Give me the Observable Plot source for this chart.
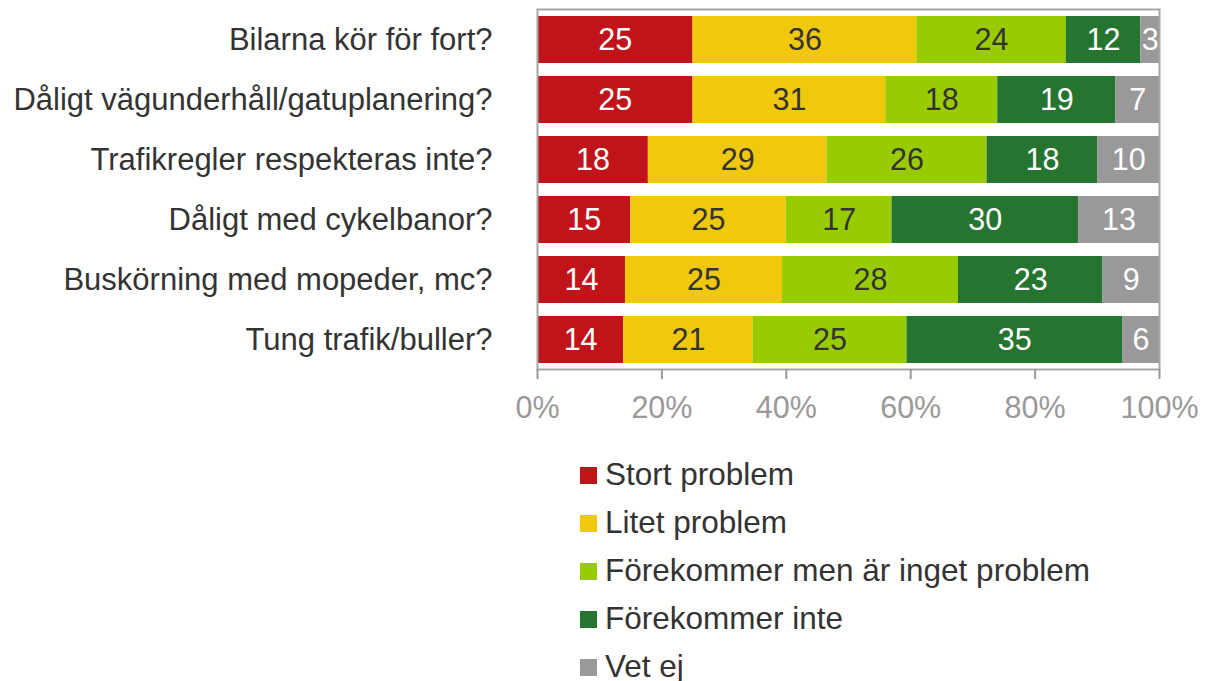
<!DOCTYPE html>
<html>
<head>
<meta charset="utf-8">
<script src="https://cdn.jsdelivr.net/npm/d3@7"></script>
<script src="https://cdn.jsdelivr.net/npm/@observablehq/plot@0.6"></script>
<style>
  html, body { margin: 0; padding: 0; background: #fff; }
  body { width: 1205px; height: 681px; position: relative; overflow: hidden; font-family: "Liberation Sans", Arial, sans-serif; }
  #legend { position: absolute; left: 580px; top: 450px; }
  .item { height: 48px; display: flex; align-items: center; font-size: 31.5px; color: #333; white-space: nowrap; }
  .sw { width: 17px; height: 17px; margin-right: 8px; margin-top: 3px; flex: none; }
</style>
</head>
<body>
<div id="chart"></div>
<div id="legend"></div>
<script>
const categories = [
  "Bilarna kör för fort?",
  "Dåligt vägunderhåll/gatuplanering?",
  "Trafikregler respekteras inte?",
  "Dåligt med cykelbanor?",
  "Buskörning med mopeder, mc?",
  "Tung trafik/buller?"
];
const seriesNames = ["Stort problem", "Litet problem", "Förekommer men är inget problem", "Förekommer inte", "Vet ej"];
const seriesColors = ["#C0141A", "#F0C80C", "#99CC00", "#257530", "#999999"];
const stortProblem = [25, 25, 18, 15, 14, 14];
const litetProblem = [36, 31, 29, 25, 25, 21];
const forekommerMen = [24, 18, 26, 17, 28, 25];
const forekommerInte = [12, 19, 18, 30, 23, 35];
const vetEj = [3, 7, 10, 13, 9, 6];
const xTicks = [0, 0.2, 0.4, 0.6, 0.8, 1];
const xTickLabels = ["0%", "20%", "40%", "60%", "80%", "100%"];
const darkTextSeries = ["Litet problem", "Förekommer men är inget problem"];

const seriesValues = [stortProblem, litetProblem, forekommerMen, forekommerInte, vetEj];
const data = [];
seriesNames.forEach((s, si) => {
  categories.forEach((c, ci) => data.push({category: c, series: s, value: seriesValues[si][ci]}));
});

const stackOpts = {x: "value", y: "category", z: "series", offset: "normalize"};

const plot = Plot.plot({
  width: 1205,
  height: 440,
  marginLeft: 537,
  marginRight: 46,
  marginTop: 9,
  marginBottom: 71,
  style: {fontFamily: "'Liberation Sans', Arial, sans-serif", fontSize: "30px", background: "white"},
  x: {domain: [0, 1], axis: null},
  y: {domain: categories, paddingInner: 0.217, paddingOuter: 0.108, axis: null},
  color: {domain: seriesNames, range: seriesColors},
  marks: [
    Plot.barX(data, Plot.stackX({...stackOpts, fill: "series"})),
    Plot.text(data, Plot.stackX({...stackOpts, text: d => darkTextSeries.includes(d.series) ? "" : String(d.value), fill: "white", fontSize: 30.5})),
    Plot.text(data, Plot.stackX({...stackOpts, text: d => darkTextSeries.includes(d.series) ? String(d.value) : "", fill: "#333", fontSize: 30.5})),
    Plot.frame({stroke: "#a6a6a6", strokeWidth: 2}),
    Plot.axisX({ticks: xTicks, tickFormat: d => xTickLabels[xTicks.indexOf(d)], tickSize: 10, tickPadding: 17, fontSize: 30.5, color: "#999", strokeWidth: 2, label: null}),
    Plot.axisY({tickSize: 0, tickPadding: 45, fontSize: 31, color: "#333", label: null})
  ]
});
document.getElementById("chart").appendChild(plot);

const legend = document.getElementById("legend");
seriesNames.forEach((s, i) => {
  const item = document.createElement("div");
  item.className = "item";
  const sw = document.createElement("span");
  sw.className = "sw";
  sw.style.background = seriesColors[i];
  item.appendChild(sw);
  item.appendChild(document.createTextNode(s));
  legend.appendChild(item);
});
</script>
</body>
</html>
